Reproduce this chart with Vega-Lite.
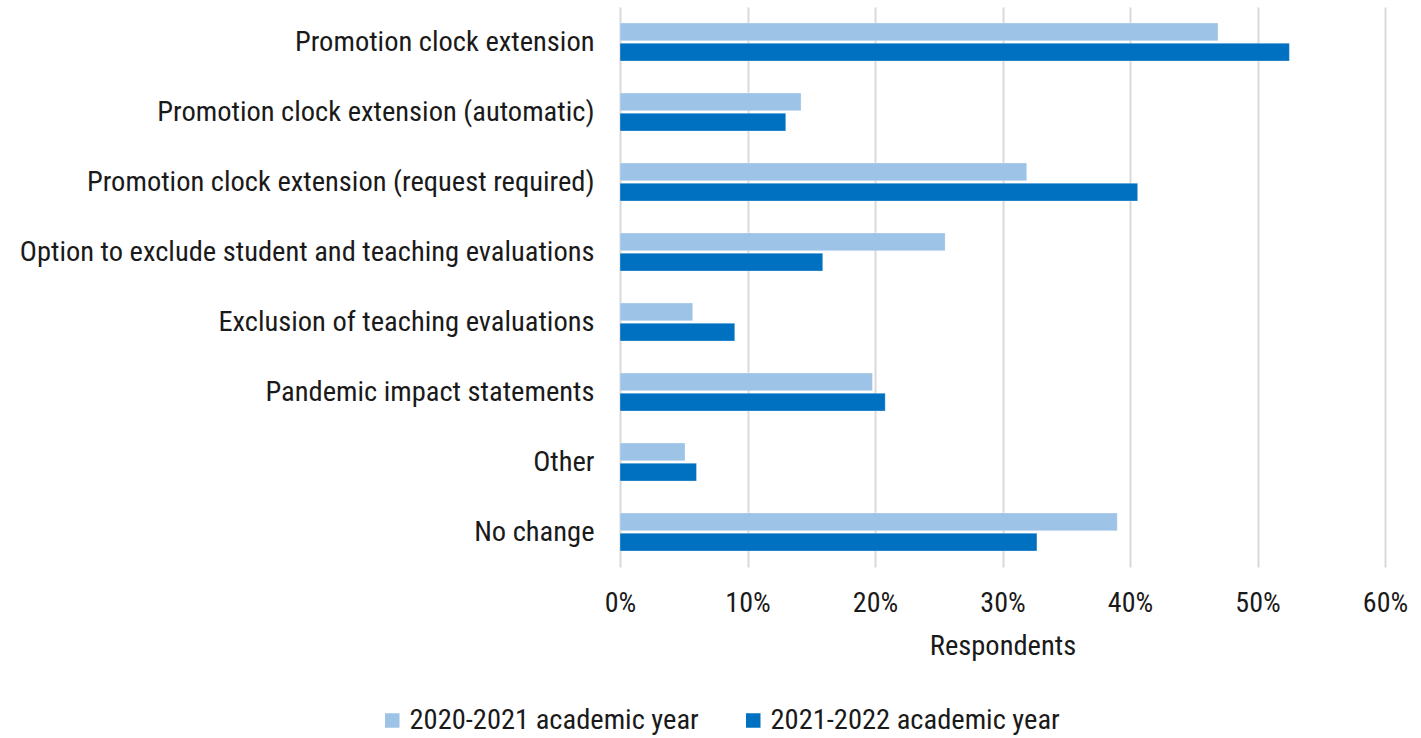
{
  "$schema": "https://vega.github.io/schema/vega-lite/v6.json",
  "autosize": "none",
  "width": 765,
  "height": 560,
  "padding": {"left": 620, "top": 7, "right": 36, "bottom": 171},
  "background": "white",
  "config": {
    "font": "Roboto Condensed, Liberation Sans Narrow, DejaVu Sans Condensed, Roboto",
    "view": {"stroke": null}
  },
  "data": {
    "values": [
      {"category": "Promotion clock extension", "year": "2020-2021 academic year", "value": 0.469},
      {"category": "Promotion clock extension", "year": "2021-2022 academic year", "value": 0.525},
      {"category": "Promotion clock extension (automatic)", "year": "2020-2021 academic year", "value": 0.142},
      {"category": "Promotion clock extension (automatic)", "year": "2021-2022 academic year", "value": 0.130},
      {"category": "Promotion clock extension (request required)", "year": "2020-2021 academic year", "value": 0.319},
      {"category": "Promotion clock extension (request required)", "year": "2021-2022 academic year", "value": 0.406},
      {"category": "Option to exclude student and teaching evaluations", "year": "2020-2021 academic year", "value": 0.255},
      {"category": "Option to exclude student and teaching evaluations", "year": "2021-2022 academic year", "value": 0.159},
      {"category": "Exclusion of teaching evaluations", "year": "2020-2021 academic year", "value": 0.057},
      {"category": "Exclusion of teaching evaluations", "year": "2021-2022 academic year", "value": 0.090},
      {"category": "Pandemic impact statements", "year": "2020-2021 academic year", "value": 0.198},
      {"category": "Pandemic impact statements", "year": "2021-2022 academic year", "value": 0.208},
      {"category": "Other", "year": "2020-2021 academic year", "value": 0.051},
      {"category": "Other", "year": "2021-2022 academic year", "value": 0.060},
      {"category": "No change", "year": "2020-2021 academic year", "value": 0.390},
      {"category": "No change", "year": "2021-2022 academic year", "value": 0.327}
    ]
  },
  "mark": {"type": "bar", "stroke": "white", "strokeWidth": 0.5, "strokeOpacity": 0.6},
  "encoding": {
    "y": {
      "field": "category",
      "type": "nominal",
      "sort": null,
      "scale": {"paddingInner": 0.457, "paddingOuter": 0.2285},
      "axis": {
        "title": null,
        "ticks": false,
        "domain": false,
        "labelFontSize": 28.5,
        "labelColor": "#1a1a1a",
        "labelPadding": 26,
        "labelLimit": 700
      }
    },
    "yOffset": {
      "field": "year",
      "type": "nominal",
      "sort": ["2020-2021 academic year", "2021-2022 academic year"],
      "scale": {"paddingInner": 0.12}
    },
    "x": {
      "field": "value",
      "type": "quantitative",
      "scale": {"domain": [0, 0.6]},
      "axis": {
        "format": "~%",
        "values": [0, 0.1, 0.2, 0.3, 0.4, 0.5, 0.6],
        "title": "Respondents",
        "titleFontSize": 28.5,
        "titleFontWeight": "normal",
        "titleColor": "#1a1a1a",
        "titlePadding": 14,
        "labelFontSize": 28,
        "labelColor": "#1a1a1a",
        "labelPadding": 22,
        "labelFlush": false,
        "ticks": false,
        "domain": false,
        "grid": true,
        "gridColor": "#d9d9d9",
        "gridWidth": 2
      }
    },
    "color": {
      "field": "year",
      "type": "nominal",
      "sort": ["2020-2021 academic year", "2021-2022 academic year"],
      "scale": {"range": ["#9dc3e6", "#0070c0"]},
      "legend": {
        "title": null,
        "orient": "none",
        "direction": "horizontal",
        "legendX": -242,
        "legendY": 699,
        "symbolType": "square",
        "symbolSize": 256,
        "labelFontSize": 28.5,
        "labelColor": "#1a1a1a",
        "labelLimit": 400,
        "columnPadding": 40,
        "labelOffset": 3
      }
    }
  }
}
